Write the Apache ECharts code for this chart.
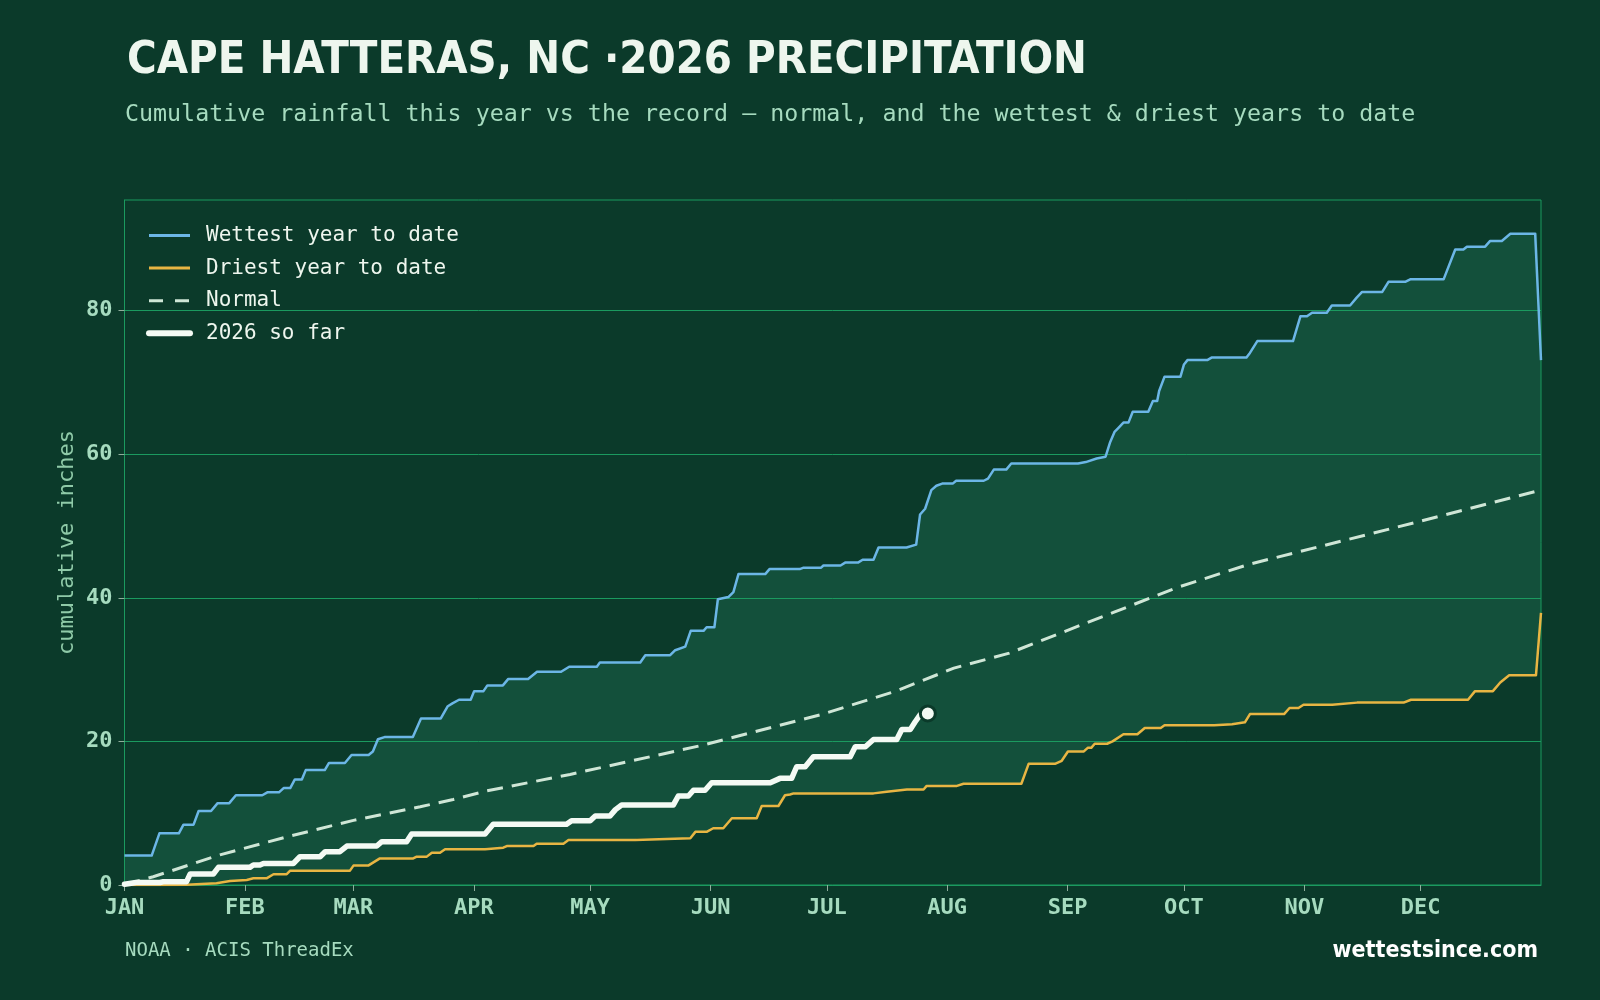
<!DOCTYPE html>
<html>
<head>
<meta charset="utf-8">
<title>Cape Hatteras precipitation</title>
<script src="https://cdn.jsdelivr.net/npm/echarts@6/dist/echarts.min.js"></script>
<style>
  html, body { margin: 0; padding: 0; background: #0b3a2a; }
  #chart { width: 1600px; height: 1000px; }
</style>
</head>
<body>
<div id="chart"></div>
<script>
// day of year (0 = Jan 1) and cumulative inches
const monthNames = ['JAN', 'FEB', 'MAR', 'APR', 'MAY', 'JUN', 'JUL', 'AUG', 'SEP', 'OCT', 'NOV', 'DEC']
const monthStartDays = [0, 31, 59, 90, 120, 151, 181, 212, 243, 273, 304, 334]
const yTicks = [0, 20, 40, 60, 80]

const wettest = [
  [0, 4.1], [7, 4.1], [9, 7.2], [14, 7.2], [15.2, 8.4], [17.8, 8.4], [19.1, 10.3], [22.3, 10.3],
  [24, 11.4], [27, 11.4], [28.7, 12.5], [35.5, 12.5], [36.8, 12.9], [39.8, 12.9], [41, 13.5], [42.7, 13.5],
  [43.9, 14.7], [45.7, 14.7], [46.7, 16.0], [51.6, 16.0], [52.7, 17.0], [56.8, 17.0], [58.5, 18.1], [62.9, 18.1],
  [64, 18.6], [65.3, 20.3], [67, 20.6], [74.3, 20.6], [76.4, 23.2], [81.5, 23.2], [83.3, 24.9], [84.5, 25.3],
  [86.2, 25.8], [89.2, 25.8], [90.1, 27.0], [92.5, 27.0], [93.5, 27.8], [97.5, 27.8], [98.9, 28.7], [104, 28.7],
  [106.3, 29.7], [112.5, 29.7], [114.6, 30.4], [121.7, 30.4], [122.5, 31.0], [132.9, 31.0], [134.2, 32.0],
  [140.6, 32.0], [141.9, 32.7], [144.5, 33.2], [145.9, 35.4], [149.2, 35.4], [150, 35.9], [152, 35.9],
  [152.9, 39.8], [155.6, 40.1], [156.9, 40.8], [158.2, 43.3], [165.1, 43.3], [166.2, 44.0], [174, 44.0],
  [175, 44.2], [179.5, 44.2], [180.1, 44.5], [184.5, 44.5], [185.7, 44.9], [189, 44.9], [190.2, 45.3],
  [193, 45.3], [194.3, 47.0], [201.5, 47.0], [204, 47.4], [205, 51.6], [206.3, 52.4], [207.9, 55.0],
  [209.2, 55.6], [210.7, 55.9], [213.4, 55.9], [214.3, 56.3], [221.4, 56.3], [222.5, 56.6], [224, 57.85],
  [227.2, 57.85], [228.5, 58.7], [245.7, 58.7], [247.7, 58.9], [250.5, 59.4], [252.8, 59.65], [254, 61.7],
  [255.1, 63.1], [256, 63.6], [257.4, 64.4], [258.7, 64.4], [259.8, 65.9], [263.8, 65.9], [265, 67.4],
  [266.1, 67.4], [266.6, 68.8], [268, 70.8], [272.1, 70.8], [273, 72.5], [273.9, 73.1], [279, 73.1],
  [280.1, 73.45], [289.1, 73.45], [290, 74.1], [291.9, 75.75], [301.1, 75.75], [303, 79.2], [304.7, 79.2],
  [306, 79.7], [309.8, 79.7], [311.1, 80.7], [315.8, 80.7], [317.5, 81.8], [318.9, 82.6], [324.1, 82.6],
  [325.7, 84.0], [330, 84.0], [331.3, 84.35], [339.9, 84.35], [342.9, 88.5], [345, 88.5], [345.9, 88.9],
  [350.6, 88.9], [351.9, 89.7], [354.9, 89.7], [357.1, 90.7], [363.5, 90.7], [364, 90.9], [365, 73.1]
]

const driest = [
  [0, 0], [10, 0], [16, 0.05], [23.7, 0.25], [27.2, 0.55], [31.5, 0.7], [33.2, 0.93], [36.6, 0.93],
  [38.4, 1.5], [41.8, 1.5], [42.7, 2.0], [58.1, 2.0], [59, 2.7], [62.8, 2.7], [65.8, 3.7], [74.4, 3.7],
  [75.3, 3.95], [77.9, 3.95], [79.2, 4.5], [81.3, 4.5], [82.6, 4.97], [92.9, 4.97], [93.3, 5.2], [97.6, 5.2],
  [98.5, 5.43], [105.4, 5.43], [106.2, 5.75], [113.1, 5.75], [114.4, 6.26], [131.6, 6.26], [132, 6.5],
  [145.8, 6.5], [147.1, 7.4], [150, 7.4], [151.7, 7.9], [154.3, 7.9], [156.5, 9.3], [162.9, 9.3],
  [164.2, 11.0], [168.5, 11.0], [170.2, 12.5], [171.5, 12.6], [172.4, 12.76], [193, 12.76], [196.4, 13.0],
  [201.6, 13.3], [205.9, 13.3], [206.7, 13.8], [214.5, 13.8], [216.2, 14.1], [231.1, 14.1], [233, 16.9],
  [239.9, 16.9], [241.5, 17.3], [243.1, 18.6], [247.2, 18.6], [248.2, 19.1], [249.1, 19.1], [250, 19.67],
  [253.2, 19.67], [254.6, 20.0], [257.4, 21.0], [261, 21.0], [262.9, 21.87], [267, 21.87], [268, 22.24],
  [280.8, 22.24], [285.4, 22.4], [288.7, 22.66], [290, 23.8], [298.8, 23.8], [300.2, 24.65], [302.5, 24.65],
  [303.8, 25.1], [311.2, 25.1], [317.6, 25.4], [329.6, 25.4], [331.5, 25.8], [346.2, 25.8], [348, 27.0],
  [352.6, 27.0], [354.5, 28.2], [356.8, 29.2], [363.7, 29.2], [364, 29.3], [365, 37.9]
]

const normal = [
  [0, 0], [3, 0.5], [7.4, 1.15], [24.6, 4.2], [41.8, 6.7], [59, 9.0], [76.2, 10.9], [84.7, 11.9],
  [93.3, 13.1], [114.8, 15.4], [149.2, 19.5], [179.3, 23.7], [198.2, 26.9], [213.7, 30.2], [228, 32.3],
  [255, 38.0], [271.6, 41.5], [290, 44.7], [326.9, 49.7], [365, 55.0]
]

const thisYear = [
  [0, 0.1], [3, 0.35], [9.1, 0.35], [10, 0.46], [16, 0.46], [16.9, 1.53], [22.9, 1.53], [24.2, 2.46],
  [32.3, 2.46], [33.2, 2.78], [34.9, 2.78], [35.8, 3.0], [43.5, 3.0], [45.2, 3.94], [50.4, 3.94],
  [51.7, 4.64], [55.5, 4.64], [57.3, 5.43], [65, 5.43], [66.3, 6.03], [72.7, 6.03], [74, 7.1], [92.9, 7.1],
  [95, 8.45], [113.9, 8.45], [115.2, 8.95], [120, 8.95], [121.3, 9.6], [125.1, 9.6], [126.5, 10.5],
  [128.1, 11.13], [141.4, 11.13], [142.7, 12.4], [145.3, 12.4], [146.6, 13.2], [149.6, 13.2],
  [151.3, 14.24], [166.4, 14.24], [168.9, 14.85], [171.9, 14.85], [173.2, 16.47], [175.4, 16.47],
  [177.5, 17.86], [187, 17.86], [188.3, 19.25], [190.9, 19.25], [193, 20.27], [199, 20.27],
  [200.3, 21.67], [202.5, 21.67], [203.7, 22.7], [205, 23.7], [207, 23.9]
]

const yMax = 95.4

const mono = '"DejaVu Sans Mono", monospace'
const heading = '"Liberation Sans Narrow", "DejaVu Sans Condensed", Roboto, sans-serif'
const mint = '#a6dbbf'
const gridGreen = '#1b9a5f'
const bg = '#0b3a2a'

const chart = echarts.init(document.getElementById('chart'))

chart.setOption({
  backgroundColor: bg,
  animation: false,
  title: [
    {
      text: 'CAPE HATTERAS, NC ·2026 PRECIPITATION',
      left: 122,
      top: 34,
      textStyle: { color: '#eef6ee', fontSize: 45, fontWeight: 'bold', fontFamily: heading }
    },
    {
      text: 'Cumulative rainfall this year vs the record — normal, and the wettest & driest years to date',
      left: 120,
      top: 98,
      textStyle: { color: mint, fontSize: 23.3, fontWeight: 'normal', fontFamily: mono }
    },
    {
      text: 'NOAA · ACIS ThreadEx',
      left: 120,
      top: 937,
      textStyle: { color: mint, fontSize: 19, fontWeight: 'normal', fontFamily: mono }
    },
    {
      text: 'wettestsince.com',
      right: 57,
      top: 935,
      textStyle: { color: '#ffffff', fontSize: 23, fontWeight: 'bold', fontFamily: heading }
    }
  ],
  legend: {
    data: [
      { name: 'Wettest year to date', lineStyle: { width: 3 } },
      { name: 'Driest year to date', lineStyle: { width: 3 } },
      { name: 'Normal', lineStyle: { width: 3, type: [14, 12] } },
      { name: '2026 so far', lineStyle: { width: 6, cap: 'round' } }
    ],
    orient: 'vertical',
    left: 146,
    top: 225,
    padding: 0,
    itemWidth: 41,
    itemHeight: 14,
    itemGap: 11.6,
    itemStyle: { opacity: 0 },
    textStyle: { color: '#eef6ee', fontSize: 21, fontFamily: mono, lineHeight: 20, padding: [0, 0, 0, 11] }
  },
  grid: {
    left: 124.5,
    right: 59,
    top: 200,
    bottom: 115,
    show: true,
    borderColor: gridGreen,
    borderWidth: 1,
    backgroundColor: 'transparent'
  },
  xAxis: {
    type: 'value',
    min: 0,
    max: 365,
    axisLine: { lineStyle: { color: gridGreen } },
    axisTick: { customValues: monthStartDays, length: 6, lineStyle: { color: '#8fae9c' } },
    axisLabel: {
      customValues: monthStartDays,
      formatter: val => monthNames[monthStartDays.indexOf(val)],
      color: mint,
      fontSize: 22,
      fontWeight: 'bold',
      fontFamily: mono,
      margin: 12
    },
    splitLine: { show: false }
  },
  yAxis: {
    type: 'value',
    min: 0,
    max: yMax,
    interval: 20,
    name: 'cumulative inches',
    nameLocation: 'middle',
    nameGap: 46,
    nameMoveOverlap: false,
    nameRotate: 90,
    nameTextStyle: { color: '#8fcaa8', fontSize: 22, fontFamily: mono },
    axisLine: { show: true, lineStyle: { color: gridGreen } },
    axisTick: { show: true, customValues: yTicks, length: 6, lineStyle: { color: '#8fae9c' } },
    axisLabel: {
      customValues: yTicks,
      color: mint,
      fontSize: 22,
      fontWeight: 'bold',
      fontFamily: mono,
      margin: 12
    },
    splitLine: { lineStyle: { color: gridGreen, width: 1 } }
  },
  series: [
    {
      // record band between driest and wettest, under the grid lines
      name: 'band',
      type: 'custom',
      z: -1,
      silent: true,
      data: [[0, 0]],
      renderItem: (params, api) => {
        const pts = wettest.map(p => api.coord(p))
          .concat(driest.slice().reverse().map(p => api.coord(p)))
        return {
          type: 'polygon',
          shape: { points: pts },
          style: { fill: '#13503b' }
        }
      }
    },
    {
      name: 'Wettest year to date',
      type: 'line',
      data: wettest,
      symbol: 'none',
      color: '#6cb6e6',
      lineStyle: { color: '#6cb6e6', width: 2.5, join: 'round' },
      z: 3
    },
    {
      name: 'Driest year to date',
      type: 'line',
      data: driest,
      symbol: 'none',
      color: '#e8b543',
      lineStyle: { color: '#e8b543', width: 2.5, join: 'round' },
      z: 3
    },
    {
      name: 'Normal',
      type: 'line',
      data: normal,
      symbol: 'none',
      color: '#cfe6d6',
      lineStyle: { color: '#cfe6d6', width: 3, type: [16, 9] },
      z: 4
    },
    {
      name: '2026 so far',
      type: 'line',
      data: thisYear,
      symbol: 'none',
      color: '#f4faf4',
      lineStyle: { color: '#f4faf4', width: 5.5, join: 'round', cap: 'round' },
      z: 5
    },
    {
      name: 'today',
      type: 'scatter',
      data: [thisYear[thisYear.length - 1]],
      symbol: 'circle',
      symbolSize: 15,
      itemStyle: { color: '#f4faf4', opacity: 1, borderColor: bg, borderWidth: 3 },
      z: 6,
      silent: true
    }
  ]
})
</script>
</body>
</html>
